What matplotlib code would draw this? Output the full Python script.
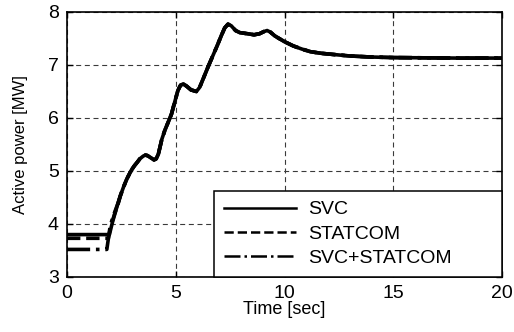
import matplotlib
matplotlib.use("Agg")
import numpy as np
import matplotlib.pyplot as plt

# Active power response, three compensation schemes

# pre-disturbance part of each curve (they differ only before ~2.4 s)
t_svc = [0, 1.95, 2.02, 2.10, 2.22, 2.35]
p_svc = [3.80, 3.80, 3.92, 4.05, 4.22, 4.40]

t_statcom = [0, 1.90, 1.97, 2.06, 2.18, 2.35]
p_statcom = [3.73, 3.73, 3.88, 4.02, 4.18, 4.38]

t_both = [0, 1.83, 1.90, 1.98, 2.10, 2.35]
p_both = [3.52, 3.52, 3.72, 3.95, 4.12, 4.40]

# common part after the transient has merged
t_common = [2.45, 2.60, 2.75, 2.90, 3.00, 3.10, 3.20, 3.35, 3.50, 3.60, 3.70,
            3.85, 4.00, 4.10, 4.20, 4.36, 4.50, 4.65, 4.80, 4.95, 5.10, 5.22,
            5.35, 5.50, 5.70, 5.95, 6.10, 6.30, 6.50, 6.70, 6.90, 7.10, 7.25,
            7.40, 7.55, 7.75, 7.95, 8.30, 8.60, 8.85, 9.05, 9.20, 9.35, 9.55,
            9.75, 10.0, 10.4, 10.8, 11.2, 11.7, 12.2, 13.0, 14.0, 15.0, 16.5,
            18.0, 20.0]
p_common = [4.53, 4.70, 4.85, 4.97, 5.04, 5.10, 5.15, 5.23, 5.28, 5.30, 5.29,
            5.25, 5.21, 5.23, 5.32, 5.60, 5.77, 5.92, 6.07, 6.30, 6.52, 6.62,
            6.64, 6.60, 6.53, 6.50, 6.58, 6.78, 6.98, 7.17, 7.36, 7.56, 7.70,
            7.77, 7.74, 7.65, 7.61, 7.59, 7.57, 7.59, 7.63, 7.65, 7.62, 7.55,
            7.50, 7.44, 7.36, 7.30, 7.25, 7.22, 7.20, 7.17, 7.15, 7.14, 7.135,
            7.13, 7.13]

x_ticks = [0, 5, 10, 15, 20]
y_ticks = [3, 4, 5, 6, 7, 8]
labels = ['SVC', 'STATCOM', 'SVC+STATCOM']

plt.rcParams['font.family'] = ['Liberation Sans', 'DejaVu Sans']

fig = plt.figure(figsize=(5.14, 3.32), dpi=100)
ax = fig.add_axes([0.1304, 0.1657, 0.8463, 0.7982])

series = [(t_svc, p_svc, '-'), (t_statcom, p_statcom, '--'), (t_both, p_both, '-.')]
handles = []
for (t_head, p_head, ls), lab in zip(series, labels):
    t = np.concatenate([t_head, t_common])
    p = np.concatenate([p_head, p_common])
    h, = ax.plot(t, p, color='black', linestyle=ls, linewidth=2.6,
                 solid_joinstyle='round', dash_capstyle='butt', label=lab)
    handles.append(h)

ax.set_xlim(0, 20)
ax.set_ylim(3, 8)
ax.set_xticks(x_ticks)
ax.set_yticks(y_ticks)
ax.tick_params(direction='in', length=4, width=1, top=True, right=True,
               labelsize=14, pad=6)
ax.grid(True, color='#3a3a3a', linestyle=(0, (4.5, 3.3)), linewidth=0.8)
for s in ax.spines.values():
    s.set_linewidth(1.2)

ax.set_xlabel('Time [sec]', fontsize=13, labelpad=-1)
ax.set_ylabel('Active power [MW]', fontsize=12, labelpad=14)

leg = ax.legend(handles=handles, loc='lower left',
                bbox_to_anchor=(0.338, 0.0, 0.662, 0.32), mode='expand',
                borderaxespad=0, fontsize=14, handlelength=3.7,
                handletextpad=0.65, labelspacing=0.35, borderpad=0.5,
                fancybox=False, framealpha=1)
leg.get_frame().set_edgecolor('black')
leg.get_frame().set_linewidth(1.1)
for line in leg.get_lines():
    line.set_linewidth(1.8)

fig.savefig('out.png', dpi=100)
